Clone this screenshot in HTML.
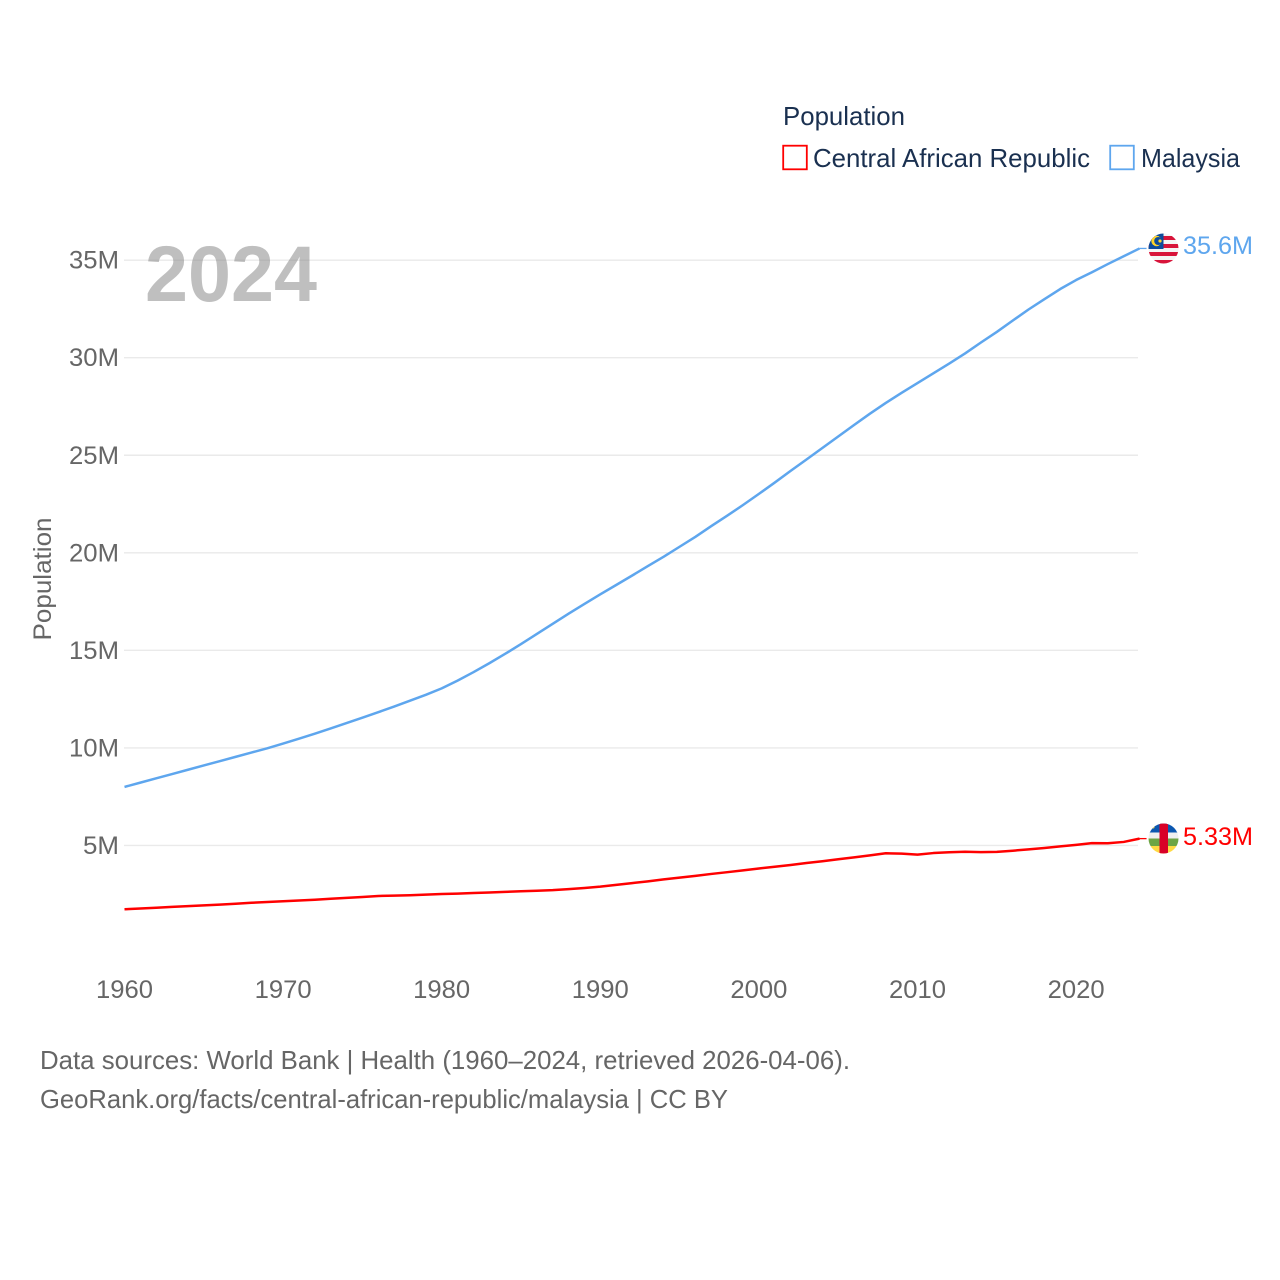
<!DOCTYPE html>
<html>
<head>
<meta charset="utf-8">
<style>
html,body{margin:0;padding:0;background:#fff;width:1280px;height:1280px;overflow:hidden}
svg{display:block}
text{font-family:"Liberation Sans",sans-serif}
</style>
</head>
<body>
<svg id="chart" xmlns="http://www.w3.org/2000/svg" width="1280" height="1280" viewBox="0 0 1280 1280">
  <defs>
    <clipPath id="clip-my"><circle cx="1163.5" cy="248.5" r="15"/></clipPath>
    <clipPath id="clip-cf"><circle cx="1163.5" cy="838.5" r="15"/></clipPath>
  </defs>
  <g id="grid"></g>
  <g id="yticks"></g>
  <g id="xticks"></g>
  <text transform="translate(51,579) rotate(-90)" text-anchor="middle" font-size="25" fill="#666" textLength="123" lengthAdjust="spacingAndGlyphs">Population</text>
  <text x="145" y="301" font-size="79" font-weight="700" fill="#808080" fill-opacity="0.5" textLength="172" lengthAdjust="spacingAndGlyphs">2024</text>
  <g>
    <text x="783" y="125" font-size="26" fill="#1a3050" textLength="122" lengthAdjust="spacingAndGlyphs">Population</text>
    <rect x="783.2" y="145.7" width="23.6" height="23.6" fill="#fff" stroke="#ff0000" stroke-width="1.8"/>
    <text x="813" y="167" font-size="26" fill="#1a3050" textLength="277" lengthAdjust="spacingAndGlyphs">Central African Republic</text>
    <rect x="1110.2" y="145.7" width="23.6" height="23.6" fill="#fff" stroke="#5ea6ee" stroke-width="1.8"/>
    <text x="1141" y="167" font-size="26" fill="#1a3050" textLength="99" lengthAdjust="spacingAndGlyphs">Malaysia</text>
  </g>
  <g id="series"></g>
  <g clip-path="url(#clip-my)">
    <rect x="1148" y="233" width="31" height="31" fill="#f4f4f4"/>
    <rect x="1148" y="236" width="31" height="4" fill="#d8143a"/>
    <rect x="1148" y="244" width="31" height="4" fill="#d8143a"/>
    <rect x="1148" y="252" width="31" height="4" fill="#d8143a"/>
    <rect x="1148" y="260" width="31" height="5" fill="#d8143a"/>
    <rect x="1148" y="233" width="15.5" height="16" fill="#0d4c9c"/>
    <circle cx="1156.5" cy="241" r="5.2" fill="#ffd42a"/>
    <circle cx="1158.2" cy="241" r="4" fill="#0d4c9c"/>
    <circle cx="1160" cy="241" r="1.6" fill="#ffd42a"/>
  </g>
  <g clip-path="url(#clip-cf)">
    <rect x="1148" y="823" width="31" height="10" fill="#0b57b0"/>
    <rect x="1148" y="832.5" width="31" height="6" fill="#f0f0f0"/>
    <rect x="1148" y="838.5" width="31" height="7.5" fill="#6da544"/>
    <rect x="1148" y="846" width="31" height="9" fill="#ffda44"/>
    <rect x="1159.5" y="823" width="8.5" height="32" fill="#d80027"/>
    <circle cx="1153" cy="827" r="1.5" fill="#ffda44"/>
  </g>
  <text x="1183" y="254" font-size="25" fill="#5ea6ee" textLength="70" lengthAdjust="spacingAndGlyphs">35.6M</text>
  <text x="1183" y="845" font-size="25" fill="#ff0000" textLength="70" lengthAdjust="spacingAndGlyphs">5.33M</text>
  <text x="40" y="1069" font-size="26" fill="#666" textLength="810" lengthAdjust="spacingAndGlyphs">Data sources: World Bank | Health (1960–2024, retrieved 2026-04-06).</text>
  <text x="40" y="1108" font-size="26" fill="#666" textLength="688" lengthAdjust="spacingAndGlyphs">GeoRank.org/facts/central-african-republic/malaysia | CC BY</text>
</svg>
<script>
const years = [1960,1961,1962,1963,1964,1965,1966,1967,1968,1969,1970,1971,1972,1973,1974,1975,1976,1977,1978,1979,1980,1981,1982,1983,1984,1985,1986,1987,1988,1989,1990,1991,1992,1993,1994,1995,1996,1997,1998,1999,2000,2001,2002,2003,2004,2005,2006,2007,2008,2009,2010,2011,2012,2013,2014,2015,2016,2017,2018,2019,2020,2021,2022,2023,2024];
const malaysia = [8.0,8.22,8.44,8.66,8.88,9.1,9.32,9.54,9.76,9.98,10.22,10.47,10.73,11.0,11.27,11.55,11.83,12.12,12.42,12.72,13.05,13.45,13.88,14.34,14.82,15.32,15.84,16.36,16.88,17.38,17.87,18.35,18.83,19.32,19.8,20.31,20.82,21.37,21.9,22.45,23.02,23.6,24.2,24.78,25.37,25.96,26.55,27.13,27.68,28.2,28.7,29.2,29.7,30.22,30.78,31.32,31.9,32.47,33.0,33.52,33.98,34.38,34.8,35.2,35.6];
const centralAfricanRepublic = [1.73,1.77,1.81,1.85,1.89,1.93,1.97,2.01,2.06,2.1,2.14,2.18,2.22,2.27,2.31,2.36,2.41,2.43,2.45,2.48,2.51,2.53,2.56,2.59,2.62,2.65,2.68,2.71,2.76,2.82,2.89,2.98,3.07,3.16,3.26,3.35,3.44,3.54,3.63,3.72,3.82,3.91,4.0,4.1,4.19,4.29,4.39,4.49,4.6,4.58,4.53,4.61,4.65,4.68,4.66,4.67,4.73,4.8,4.87,4.95,5.03,5.12,5.11,5.18,5.35];
const yTickValues = [5,10,15,20,25,30,35];
const yTickLabels = ["5M","10M","15M","20M","25M","30M","35M"];
const xTickValues = [1960,1970,1980,1990,2000,2010,2020];

const NS = "http://www.w3.org/2000/svg";
function xScale(year){ return 124.5 + (year - 1960) * 15.86; }
function yScale(v){ return 943 - v * 19.51; }
function make(tag, attrs, parent){
  const el = document.createElementNS(NS, tag);
  for (const k in attrs) el.setAttribute(k, attrs[k]);
  parent.appendChild(el);
  return el;
}
const grid = document.getElementById("grid");
const yticks = document.getElementById("yticks");
const xticks = document.getElementById("xticks");
const seriesGroup = document.getElementById("series");

yTickValues.forEach(function(v, i){
  const line = make("line", {x1:124, x2:1138, y1:yScale(v), y2:yScale(v), stroke:"#eaeaea", "stroke-width":1.4}, grid);
  
  
  const t = make("text", {x:119, y:yScale(v)+8.5, "text-anchor":"end", "font-size":25, fill:"#666"}, yticks);
  
  
  t.setAttribute('textLength', yTickLabels[i].length === 2 ? 36 : 50);
  t.setAttribute('lengthAdjust', 'spacingAndGlyphs');
  t.textContent = yTickLabels[i];
});
xTickValues.forEach(function(y){
  const t = make("text", {x:xScale(y), y:998, "text-anchor":"middle", "font-size":25, fill:"#666"}, xticks);
  
  
  t.setAttribute('textLength', 57);
  t.setAttribute('lengthAdjust', 'spacingAndGlyphs');
  t.textContent = y;
});
function drawSeries(values, color, name){
  const d = values.map(function(v, i){
    return (i ? "L" : "M") + xScale(years[i]).toFixed(2) + " " + yScale(v).toFixed(2);
  }).join(" ");
  const p = make("path", {d:d, fill:"none", stroke:color, "stroke-width":2.5, "stroke-linejoin":"round"}, seriesGroup);
  
  
  const last = values[values.length - 1];
  const lastX = xScale(years[years.length - 1]);
  const c = make("line", {x1:lastX, x2:lastX + 7, y1:yScale(last), y2:yScale(last), stroke:color, "stroke-width":1.3}, seriesGroup);
  
  
}
drawSeries(malaysia, "#5ea6ee", "line-malaysia");
drawSeries(centralAfricanRepublic, "#ff0000", "line-central-african-republic");
</script>
</body>
</html>
